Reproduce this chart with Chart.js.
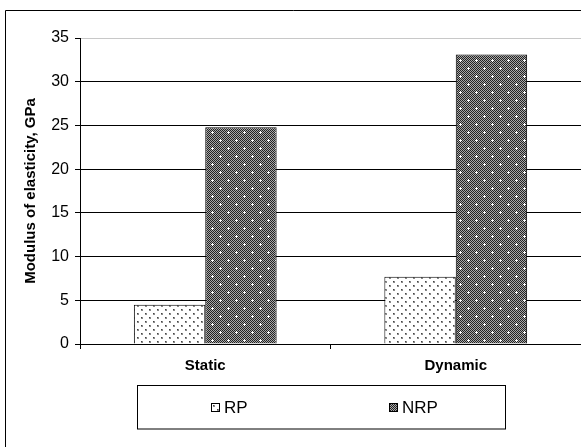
<!DOCTYPE html>
<html>
<head>
<meta charset="utf-8">
<script src="https://cdn.jsdelivr.net/npm/chart.js@4/dist/chart.umd.min.js"></script>
<style>
html,body{margin:0;padding:0;background:#fff;}
#wrap{position:relative;width:581px;height:447px;}
</style>
</head>
<body>
<div id="wrap"><canvas id="c" width="581" height="447"></canvas></div>
<script>
const categories = ['Static', 'Dynamic'];
const seriesNames = ['RP', 'NRP'];
const rpValues = [4.5, 7.7];
const nrpValues = [24.8, 33.1];
const yTicks = [0, 5, 10, 15, 20, 25, 30, 35];
const yTitle = 'Modulus of elasticity, GPa';
const FONT = "'Liberation Sans', Arial, sans-serif";

function makeTile(w, h, draw) {
  const t = document.createElement('canvas');
  t.width = w; t.height = h;
  const g = t.getContext('2d');
  draw(g);
  return t;
}
const dotTile = makeTile(8, 8, g => {
  g.fillStyle = '#fff'; g.fillRect(0, 0, 8, 8);
  g.fillStyle = '#8a8a8a';
  g.fillRect(1, 1, 2, 2); g.fillRect(5, 5, 2, 2);
  g.fillStyle = '#444';
  g.fillRect(1, 1, 1, 1); g.fillRect(5, 5, 1, 1);
});
const checkTile = makeTile(16, 16, g => {
  for (let y = 0; y < 16; y++) for (let x = 0; x < 16; x++) {
    g.fillStyle = ((x + y) % 2 === 0) ? '#222' : '#a8a8a8';
    g.fillRect(x, y, 1, 1);
  }
  g.fillStyle = '#fff';
  [[4, 4], [12, 12]].forEach(([cx, cy]) => {
    g.fillRect(cx - 1, cy, 3, 1); g.fillRect(cx, cy - 1, 1, 3);
  });
});
const pctx = document.createElement('canvas').getContext('2d');
const rpPattern = pctx.createPattern(dotTile, 'repeat');
const nrpPattern = pctx.createPattern(checkTile, 'repeat');
const patterns = [rpPattern, nrpPattern];

const framePlugin = {
  id: 'frame',
  beforeDraw(chart) {
    const c = chart.ctx;
    c.save();
    c.strokeStyle = '#000'; c.lineWidth = 1;
    c.beginPath();
    c.moveTo(5.5, 447); c.lineTo(5.5, 10.5); c.lineTo(581, 10.5);
    c.stroke();
    c.restore();
  },
  afterDraw(chart) {
    const c = chart.ctx;
    c.save();
    c.strokeStyle = '#000'; c.lineWidth = 1;
    c.strokeRect(137.5, 385.5, 368, 43.5);
    const centers = [229, 413];
    c.font = '17px ' + FONT;
    c.textBaseline = 'middle';
    chart.data.datasets.forEach((ds, i) => {
      const label = ds.label;
      const tw = c.measureText(label).width;
      const total = 9 + 4 + tw;
      const x0 = Math.round(centers[i] - total / 2);
      c.fillStyle = patterns[i];
      c.fillRect(x0, 403, 9, 9);
      c.strokeStyle = '#000';
      c.strokeRect(x0 + 0.5, 403.5, 8, 8);
      c.fillStyle = '#000';
      c.textAlign = 'left';
      c.fillText(label, x0 + 13, 408);
    });
    c.restore();
  }
};

new Chart(document.getElementById('c'), {
  type: 'bar',
  data: {
    labels: categories,
    datasets: [
      { label: seriesNames[0], data: rpValues, backgroundColor: rpPattern, borderColor: '#000', borderWidth: 1 },
      { label: seriesNames[1], data: nrpValues, backgroundColor: nrpPattern, borderColor: '#000', borderWidth: 1 }
    ]
  },
  options: {
    responsive: false,
    animation: false,
    devicePixelRatio: 1,
    layout: { padding: { left: 0, right: 0, top: 38, bottom: 73 } },
    plugins: { legend: { display: false }, tooltip: { enabled: false } },
    datasets: { bar: { categoryPercentage: 0.57, barPercentage: 1.0 } },
    scales: {
      x: {
        offset: true,
        grid: { display: true, drawOnChartArea: false, drawTicks: true, tickLength: 5, color: '#000', offset: true },
        border: { display: true, color: '#000', width: 1 },
        ticks: { color: '#000', font: { family: FONT, size: 15, weight: 'bold' }, padding: 8 },
        afterFit(s) { s.height = 30; }
      },
      y: {
        min: 0, max: 35,
        afterBuildTicks(s) { s.ticks = yTicks.map(v => ({ value: v })); },
        grid: {
          color: ctx => (ctx.tick && ctx.tick.value === 35) ? '#c8c8c8' : '#000',
          tickColor: '#000', tickLength: 5, lineWidth: 1
        },
        border: { display: true, color: '#000', width: 1 },
        ticks: { color: '#000', font: { family: FONT, size: 16 }, padding: 6 },
        title: { display: true, text: yTitle, color: '#000', font: { family: FONT, size: 15, weight: 'bold' }, padding: { top: 22, bottom: 0 } },
        afterFit(s) { s.width = 80; }
      }
    }
  },
  plugins: [framePlugin]
});
</script>
</body>
</html>
